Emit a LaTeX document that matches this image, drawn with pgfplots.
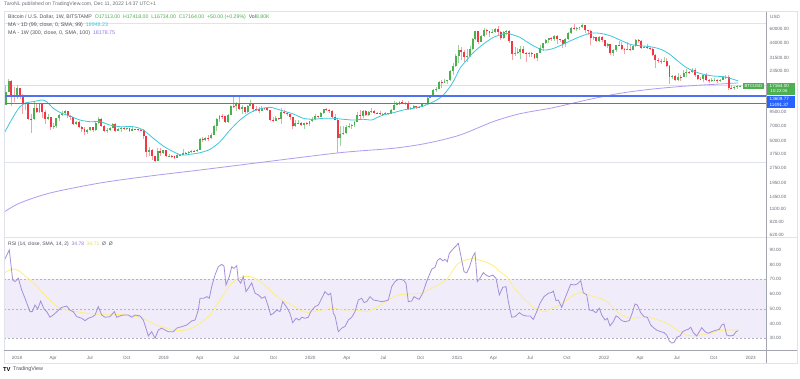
\documentclass[border=0pt]{standalone}
\usepackage{pgfplots}
\pgfplotsset{compat=1.18}
\usepackage{pgfplotstable}
\usepackage{fontspec}
\setmainfont{Liberation Sans}
\definecolor{cgreen}{HTML}{4CAF50}
\definecolor{cred}{HTML}{F23645}
\definecolor{cgreenw}{HTML}{9ED3A0}
\definecolor{credw}{HTML}{F6A0A7}
\definecolor{macyan}{HTML}{3CC8DC}
\definecolor{mapurple}{HTML}{B29AEF}
\definecolor{mapurpletxt}{HTML}{9575E6}
\definecolor{rsiline}{HTML}{A48FDA}
\definecolor{rsiyel}{HTML}{FFEE80}
\definecolor{rsiyeltxt}{HTML}{F2D94E}
\definecolor{band}{HTML}{F0ECF9}
\definecolor{dashgray}{HTML}{B4B4C0}
\definecolor{hblue}{HTML}{4F72F5}
\definecolor{badgeblue}{HTML}{2962FF}
\definecolor{lbl}{HTML}{6A6D78}
\definecolor{dark}{HTML}{50535E}
\definecolor{framec}{HTML}{E0E3EB}
\definecolor{pricegreen}{HTML}{CDEBCF}
\definecolor{axgray}{HTML}{A3A6AF}

\pgfplotstableread{
w o h l c
0 11200 17200 11000 15000
1 15000 19666 14800 19100
2 19100 19200 10800 13900
3 13900 16500 12000 13850
4 13850 17200 12800 16200
5 16200 16300 12800 13600
6 13600 14100 9000 11550
7 11550 12000 9900 11700
8 11700 11800 7900 8200
9 8200 9000 6000 8100
10 8100 11800 8000 10400
11 10400 11250 9300 9600
12 9600 11700 9400 11400
13 11400 11700 8400 9500
14 9500 9900 7300 8200
15 8200 9100 8000 8450
16 8450 8500 6400 6850
17 6850 7500 6450 7000
18 7000 8400 6600 8350
19 8350 9000 7850 8900
20 8900 9750 8700 9400
21 9400 9990 9050 9650
22 9650 9700 8350 8700
23 8700 8880 7950 8500
24 8500 8550 7100 7350
25 7350 7750 7050 7700
26 7700 7750 6650 6750
27 6750 6900 6150 6500
28 6500 6850 5750 6150
29 6150 6500 5800 6350
30 6350 6800 6300 6750
31 6750 6800 6100 6350
32 6350 7600 6300 7400
33 7400 8500 7350 8200
34 8200 8250 6900 7000
35 7000 7150 6100 6300
36 6300 6600 5900 6400
37 6400 6800 6250 6700
38 6700 7400 6700 7300
39 7300 7400 6100 6250
40 6250 6600 6200 6500
41 6500 6800 6150 6700
42 6700 6750 6400 6600
43 6600 6650 6400 6620
44 6620 6650 6100 6300
45 6300 6750 6250 6500
46 6500 6550 6400 6450
47 6450 6550 6250 6420
48 6420 6550 6350 6350
49 6350 6450 5200 5550
50 5550 5600 3500 3900
51 3900 4400 3600 4100
52 4100 4150 3300 3550
53 3550 3600 3122 3220
54 3220 4250 3200 4000
55 4000 4250 3550 3850
56 3850 4100 3700 4050
57 4050 4100 3500 3550
58 3550 3700 3500 3560
59 3560 3650 3450 3540
60 3540 3570 3350 3420
61 3420 3700 3380 3640
62 3640 3700 3550 3680
63 3680 4200 3670 3850
64 3850 3900 3700 3820
65 3820 3950 3700 3920
66 3920 4050 3850 4000
67 4000 4100 3900 3980
68 3980 4150 3900 4100
69 4100 5350 4100 5200
70 5200 5450 4900 5100
71 5100 5400 5000 5300
72 5300 5650 5000 5280
73 5280 5900 5250 5750
74 5750 7100 5700 7000
75 7000 8300 6200 8150
76 8150 8950 7550 8750
77 8750 9100 8100 8700
78 8700 8800 7450 7650
79 7650 9000 7500 8950
80 8950 11200 8950 10850
81 10850 13880 10300 10800
82 10800 12000 9700 11450
83 11450 13150 10250 10200
84 10200 11000 9100 10550
85 10550 10650 9150 9500
86 9500 11000 9400 10950
87 10950 12300 10900 11300
88 11300 11450 9500 10200
89 10200 10950 9800 10150
90 10150 10600 9350 9750
91 9750 10900 9750 10400
92 10400 10450 9900 10300
93 10300 10350 9800 10000
94 10000 10050 7750 8050
95 8050 8550 7800 7850
96 7850 8800 7800 8300
97 8300 8400 7900 8200
98 8200 10500 7300 9550
99 9550 9900 9050 9300
100 9300 9500 8700 9050
101 9050 9100 8000 8500
102 8500 8500 6550 7000
103 7000 7900 6800 7400
104 7400 7900 7300 7500
105 7500 7600 7000 7100
106 7100 7500 6450 7500
107 7500 7700 7100 7300
108 7300 7800 6900 7750
109 7750 8450 7700 8100
110 8100 9200 8050 8650
111 8650 8750 8250 8600
112 8600 9600 8550 9350
113 9350 10150 9100 10150
114 10150 10500 9700 9900
115 9900 10250 9350 9650
116 9650 9950 8400 8550
117 8550 9200 8000 8000
118 8000 8150 3850 5350
119 5350 6950 4450 5850
120 5850 6950 5700 5900
121 5900 7200 5850 6750
122 6750 7450 6600 6900
123 6900 7300 6550 7100
124 7100 7750 6800 7700
125 7700 9450 7650 8900
126 8900 10050 8100 8750
127 8750 9900 8250 9700
128 9700 9850 8800 8900
129 8900 9750 8650 9450
130 9450 10400 9250 9750
131 9750 9950 9100 9350
132 9350 9600 9200 9300
133 9300 9750 8950 9000
134 9000 9350 8900 9050
135 9050 9450 9050 9250
136 9250 9300 9050 9200
137 9200 10100 9150 9950
138 9950 12100 9900 11100
139 11100 11900 11000 11700
140 11700 12100 11150 11900
141 11900 12500 11350 11650
142 11650 11800 11150 11700
143 11700 12100 9900 10250
144 10250 10600 9900 10300
145 10300 11100 10200 10900
146 10900 10950 10150 10750
147 10750 10950 10400 10650
148 10650 11500 10550 11400
149 11400 11700 11200 11500
150 11500 13350 11400 13050
151 13050 14000 12900 13750
152 13750 15950 13300 15500
153 15500 16500 14800 15950
154 15950 18950 15800 18400
155 18400 19400 16300 18200
156 18200 19900 18100 19150
157 19150 19400 17650 19250
158 19250 24250 19000 23850
159 23850 28400 21900 26250
160 26250 34800 26050 33000
161 33000 41950 28250 38150
162 38150 40100 30400 35800
163 35800 37850 28850 32250
164 32250 38500 29200 33100
165 33100 40950 32300 38900
166 38900 49700 37900 48600
167 48600 58350 47000 57500
168 57500 57500 43000 45200
169 45200 52600 44950 51200
170 51200 61800 50300 59000
171 59000 60500 53300 57350
172 57350 58400 50400 55800
173 55800 60200 55500 57100
174 57100 61300 55400 59800
175 59800 64900 51500 56200
176 56200 57500 47000 49100
177 49100 58000 48800 56600
178 56600 59500 53400 58200
179 58200 59600 43800 46400
180 46400 46600 30000 34700
181 34700 40900 33300 35600
182 35600 39300 34800 35800
183 35800 40950 31100 39100
184 39100 41300 34800 35500
185 35500 36000 28800 34700
186 34700 36550 32700 35300
187 35300 35950 32100 34250
188 34250 34650 31000 31800
189 31800 35400 29300 35400
190 35400 42200 35200 39900
191 39900 44700 37400 43800
192 43800 48100 43100 47000
193 47000 49400 43950 49300
194 49300 50500 46350 48800
195 48800 52900 46700 51800
196 51800 52900 42800 48300
197 48300 48850 44800 47250
198 47250 47350 39600 43200
199 43200 49250 40800 48200
200 48200 56100 46900 54700
201 54700 62900 53900 61500
202 61500 67000 59500 60900
203 60900 63700 57800 61300
204 61300 63500 59400 63300
205 63300 69000 62300 65500
206 65500 66300 55600 58600
207 58600 59300 53300 57300
208 57300 59100 42000 49400
209 49400 51900 47100 50100
210 50100 50500 45500 46700
211 46700 51900 45600 50800
212 50800 52100 45700 47300
213 47300 47500 40600 41800
214 41800 44500 39700 43100
215 43100 43500 34000 35100
216 35100 38900 32900 37900
217 37900 42600 36250 42400
218 42400 45850 41700 42200
219 42200 44750 38000 38400
220 38400 39500 34300 37700
221 37700 45400 37500 38400
222 38400 42600 37150 37800
223 37800 42350 37600 41300
224 41300 48200 40500 46800
225 46800 48200 44250 46400
226 46400 47250 39200 39700
227 39700 41550 39250 40400
228 40400 42950 38550 39450
229 39450 40800 37650 38500
230 38500 40000 33700 34100
231 34100 34300 25350 30500
232 30500 31500 28650 29450
233 29450 30650 28000 29500
234 29500 32400 29300 29900
235 29900 31700 26500 26600
236 26600 26850 17600 20550
237 20550 21850 19650 21000
238 21000 21550 18900 19300
239 19300 22450 19000 20850
240 20850 21600 18950 20800
241 20800 24250 20750 22600
242 22600 24650 20750 23300
243 23300 23700 22400 22950
244 22950 25200 22700 24300
245 24300 25200 20800 21500
246 21500 21900 19550 20050
247 20050 20550 19550 19800
248 19800 21850 18550 21800
249 21800 22800 19350 19400
250 19400 19950 18150 18800
251 18800 20350 18500 19300
252 19300 20450 19000 19400
253 19400 19950 18200 19050
254 19050 19700 18650 19550
255 19550 21000 19250 20650
256 20650 21450 20050 20900
257 20900 21450 15650 16350
258 16350 17200 15800 16300
259 16300 16850 15500 16450
260 16450 17400 16000 17113
261 17113 17418 16734 17164
}\btc

\pgfplotstableread{
x y
-0.622 69000
270.31 69000
}\lineATH
\pgfplotstableread{
x y
-0.622 3122
270.31 3122
}\lineLOW
\pgfplotstableread{
x y
-0.622 17164
270.31 17164
}\linePRICE
\pgfplotstableread{
x y
-0.622 13609.77
270.31 13609.77
}\lineA
\pgfplotstableread{
x y
-0.622 11491.37
270.31 11491.37
}\lineB

\begin{document}
\begin{tikzpicture}[x=1pt,y=1pt]
\fill[white] (0pt,0pt) rectangle (800pt,378pt);
\useasboundingbox (0pt,0pt) rectangle (800pt,378pt);

% ---------------- price pane ----------------
\begin{axis}[
  at={(4pt,141pt)}, anchor=south west, scale only axis,
  width=762pt, height=226pt,
  xmin=-0.622, xmax=270.31,
  ymode=log, ymin=588.3, ymax=90200,
  axis line style={draw=none}, tick style={draw=none}, major tick length=0pt,
  xtick=\empty,
  ytick={620,820,1100,1450,1950,2750,3750,5000,7000,9500,23500,31500,44000,60000},
  yticklabels={620.00,820.00,1100.00,1450.00,1950.00,2750.00,3750.00,5000.00,7000.00,9500.00,23500.00,31500.00,44000.00,60000.00},
  yticklabel pos=right,
  yticklabel style={font=\fontsize{4.6}{5}\selectfont, text=lbl, inner sep=0pt, xshift=3.5pt, anchor=west},
]
\addplot[draw=framec, mark=none, line width=0.7pt, forget plot] table[x=x,y=y] {\lineATH};
\addplot[draw=framec, mark=none, line width=0.7pt, forget plot] table[x=x,y=y] {\lineLOW};
\addplot[draw=pricegreen, mark=none, line width=0.7pt, forget plot] table[x=x,y=y] {\linePRICE};

\addplot[draw=mapurple, mark=none, line width=0.8pt, smooth, forget plot] coordinates {
(-0.6,1026) (5.07,1254) (15.73,1567) (33.51,1958) (51.29,2288) (69.07,2615) (90.4,3090) (118.85,3845) (137.7,4240) (149.67,4740) (161.51,5700) (173.25,7670) (182.84,9160) (194.58,10470) (206.56,12430) (218.4,14430) (230.14,15880) (242.12,16970) (253.95,17750) (260.46,18180)};

% wicks
\addplot[draw=none, mark=none, forget plot,
  restrict expr to domain={\thisrow{c}-\thisrow{o}}{0:10000000},
  error bars/.cd, y dir=both, y explicit, error mark=none,
  error bar style={draw=cgreenw, line width=0.6pt}]
  table[x=w, y=c, y error plus expr=\thisrow{h}-\thisrow{c}, y error minus expr=\thisrow{c}-\thisrow{l}] {\btc};
\addplot[draw=none, mark=none, forget plot,
  restrict expr to domain={\thisrow{c}-\thisrow{o}}{-10000000:-0.001},
  error bars/.cd, y dir=both, y explicit, error mark=none,
  error bar style={draw=credw, line width=0.6pt}]
  table[x=w, y=c, y error plus expr=\thisrow{h}-\thisrow{c}, y error minus expr=\thisrow{c}-\thisrow{l}] {\btc};
% bodies
\addplot[draw=none, mark=none, forget plot,
  restrict expr to domain={\thisrow{c}-\thisrow{o}}{0:10000000},
  error bars/.cd, y dir=minus, y explicit, error mark=none,
  error bar style={draw=cgreen, line width=1.9pt}]
  table[x=w, y=c, y error minus expr=\thisrow{c}-\thisrow{o}] {\btc};
\addplot[draw=none, mark=none, forget plot,
  restrict expr to domain={\thisrow{c}-\thisrow{o}}{-10000000:-0.001},
  error bars/.cd, y dir=plus, y explicit, error mark=none,
  error bar style={draw=cred, line width=1.9pt}]
  table[x=w, y=c, y error plus expr=\thisrow{o}-\thisrow{c}] {\btc};

\addplot[draw=macyan, mark=none, line width=0.8pt, smooth, forget plot] coordinates {
(-0.6,5920) (2.69,8570) (5.07,10710) (7.45,11700) (9.8,11970) (12.78,12430) (14.56,11970) (16.91,10330) (19.89,9250) (22.85,8710) (26.4,7960) (29.96,7670) (33.51,7670) (37.07,7120) (40.62,6860) (45.35,6860) (48.91,6370) (52.46,5300) (56.02,4460) (59.58,3930) (62.56,3650) (65.51,3710) (69.07,3845) (72.62,4145) (76.18,4910) (79.73,6370) (83.29,7960) (86.85,9370) (89.8,10100) (93.96,10560) (97.51,9950) (102.24,9100) (105.8,8270) (109.36,8090) (112.91,8270) (116.47,8270) (120.02,8090) (123.58,7960) (127.14,8090) (130.12,7960) (131.9,8380) (134.24,8890) (137.8,9370) (141.35,9950) (144.91,10330) (148.46,10870) (150.85,11550) (153.23,12430) (155.58,13890) (157.96,16720) (159.74,20150) (161.51,25180) (163.9,30290) (166.24,35650) (168.62,40740) (171,45500) (173.35,50150) (175.73,52860) (178.12,54890) (180.46,52860) (182.84,50150) (185.23,45500) (188.18,40740) (191.13,37840) (194.12,38700) (197.07,41650) (200.63,46240) (204.18,50890) (207.73,54890) (211.29,54890) (214.85,52040) (218.4,47280) (221.96,42980) (225.51,41650) (229.07,40740) (232.62,38700) (235.58,35150) (238.56,30290) (241.51,26100) (244.46,23710) (248.02,22030) (251.57,21210) (255.13,20880) (257.51,20150) (260.46,18980)};

\addplot[draw=hblue, mark=none, line width=1.4pt, forget plot] table[x=x,y=y] {\lineA};
\addplot[draw=hblue, mark=none, line width=1.4pt, forget plot] table[x=x,y=y] {\lineB};
\end{axis}

% ---------------- RSI pane ----------------
\begin{axis}[
  at={(4pt,28pt)}, anchor=south west, scale only axis,
  width=762pt, height=113pt,
  xmin=-0.622, xmax=270.31, ymin=22.05, ymax=98.8,
  axis line style={draw=none}, tick style={draw=none}, major tick length=0pt,
  ytick={30,40,50,60,70,80,90},
  yticklabels={30.00,40.00,50.00,60.00,70.00,80.00,90.00},
  yticklabel pos=right,
  yticklabel style={font=\fontsize{4.6}{5}\selectfont, text=lbl, inner sep=0pt, xshift=3.5pt, anchor=west},
  xtick={4,16.857,29.857,43,56.143,69,82,95.143,108.286,121.286,134.286,147.429,160.571,173.429,186.429,199.571,212.714,225.571,238.571,251.714,264.857},
  xticklabels={2018,Apr,Jul,Oct,2019,Apr,Jul,Oct,2020,Apr,Jul,Oct,2021,Apr,Jul,Oct,2022,Apr,Jul,Oct,2023},
  xticklabel style={font=\fontsize{4.6}{5}\selectfont, text=lbl, inner sep=0pt, anchor=north, yshift=-6pt},
]
\addplot[fill=band, draw=none, mark=none, forget plot] coordinates {(-0.622,30) (270.31,30) (270.31,70) (-0.622,70)} -- cycle;
\addplot[draw=dashgray, mark=none, line width=0.5pt, dash pattern=on 2pt off 2pt, forget plot] coordinates {(-0.622,30) (270.31,30)};
\addplot[draw=dashgray, mark=none, line width=0.5pt, dash pattern=on 2pt off 2pt, forget plot] coordinates {(-0.622,50) (270.31,50)};
\addplot[draw=dashgray, mark=none, line width=0.5pt, dash pattern=on 2pt off 2pt, forget plot] coordinates {(-0.622,70) (270.31,70)};

\addplot[draw=rsiyel, mark=none, line width=0.8pt, smooth, forget plot] coordinates {
(-0.6,74.2) (1.51,76.5) (3.29,76.9) (5.07,75.4) (6.85,72.3) (8.62,69.6) (11.0,65.5) (13.35,60.6) (15.73,56.0) (18.68,51.0) (21.67,49.2) (25.23,48.1) (28.78,47.0) (33.51,46.3) (38.24,46.3) (43.0,45.8) (47.73,44.3) (50.1,42.4) (53.67,39.0) (57.23,36.8) (59.58,35.6) (62.56,35.2) (66.12,36.8) (69.07,40.2) (72.62,45.8) (75.0,52.6) (77.35,59.5) (79.73,66.2) (82.12,70.1) (84.46,71.9) (86.85,71.9) (89.23,70.1) (91.57,66.9) (95.13,60.6) (98.12,56.0) (101.07,53.3) (104.62,49.2) (107.58,47.4) (110.56,48.6) (114.12,49.7) (116.47,50.4) (120.02,49.2) (124.79,49.2) (128.34,48.1) (131.9,51.0) (136.02,56.0) (139.58,59.4) (143.74,60.1) (147.29,60.6) (150.85,63.3) (154.4,66.9) (156.78,70.1) (159.13,76.5) (160.91,80.9) (163.29,83.0) (166.24,84.3) (168.62,83.0) (171.0,81.6) (173.35,79.3) (175.73,75.2) (178.12,71.9) (180.46,65.1) (182.84,59.5) (185.23,54.9) (187.58,51.0) (189.96,49.2) (191.74,48.1) (194.12,50.4) (197.07,52.6) (199.45,56.0) (201.8,59.4) (204.18,61.0) (206.56,60.1) (208.91,58.3) (211.29,57.2) (213.67,54.9) (216.02,50.4) (218.4,46.5) (220.78,44.3) (223.13,43.6) (225.51,44.3) (227.9,44.3) (230.24,43.6) (232.62,42.0) (235.0,40.2) (237.35,37.5) (239.73,34.5) (242.12,32.2) (244.46,31.6) (246.84,32.2) (250.4,33.4) (253.95,35.2) (257.51,35.6) (260.46,35.6)};

\addplot[draw=rsiline, mark=none, line width=0.8pt, forget plot] coordinates {
(-0.6,82.7) (1.26,90.0) (2.47,69.6) (3.29,68.5) (4.46,70.8) (5.67,62.8) (6.85,57.2) (8.62,48.1) (9.44,48.1) (10.4,52.6) (11.36,49.9) (12.43,55.3) (13.6,49.9) (14.56,48.1) (15.73,44.3) (16.91,45.9) (18.12,48.0) (19.89,51.0) (21.67,51.9) (22.84,49.2) (24.02,48.0) (25.23,44.7) (27.0,43.6) (28.18,42.0) (29.35,43.6) (30.92,44.7) (31.73,45.8) (32.91,51.5) (34.12,45.8) (35.29,44.3) (37.07,44.7) (38.6,48.1) (39.45,44.3) (40.62,45.2) (41.8,45.8) (43.57,45.8) (44.79,44.3) (45.96,45.8) (47.73,45.2) (48.91,42.4) (49.87,36.8) (50.69,31.6) (51.89,34.5) (53.07,30.0) (54.24,35.6) (55.45,36.9) (56.62,35.6) (57.8,34.5) (59.58,34.5) (60.78,36.9) (62.56,37.9) (64.34,39.0) (66.12,41.8) (67.29,42.4) (68.47,49.2) (69.07,57.2) (70.49,57.2) (71.45,58.3) (72.37,57.2) (73.23,65.1) (74.4,73.0) (75.57,78.6) (76.78,80.2) (77.6,79.1) (78.31,66.2) (79.49,71.9) (80.34,78.6) (81.16,77.5) (82.12,79.3) (82.69,69.6) (83.54,67.4) (84.46,71.9) (85.42,61.7) (86.24,63.9) (87.45,67.7) (88.62,60.6) (89.8,59.5) (91.01,57.2) (92.18,58.3) (93.36,51.5) (94.21,45.8) (95.14,46.9) (96.34,49.2) (97.52,48.1) (98.47,54.9) (99.9,51.0) (101.07,46.9) (102.03,40.6) (103.2,43.6) (104.38,42.4) (105.23,44.3) (106.4,43.6) (107.58,44.3) (108.43,48.1) (109.96,51.5) (111.13,52.6) (112.34,57.2) (113.51,61.7) (114.69,59.5) (115.54,60.6) (116.47,47.0) (117.07,45.2) (118.24,34.5) (119.45,36.9) (120.62,38.0) (121.8,42.4) (123.01,44.3) (124.18,48.1) (125.36,56.0) (126.56,57.2) (127.38,54.3) (128.34,54.9) (129.51,58.3) (130.69,56.0) (131.9,55.6) (133.67,54.9) (134.85,55.3) (136.02,56.0) (137.23,65.1) (138.4,68.5) (139.58,70.1) (140.18,70.1) (141.35,69.6) (142.31,67.4) (143.13,54.9) (144.34,55.3) (145.16,58.3) (146.12,57.2) (147.04,56.5) (148.25,60.6) (149.42,67.4) (150.24,71.4) (151.45,76.9) (152.62,78.2) (153.44,82.7) (154.4,84.3) (155.36,82.7) (156.18,83.6) (156.99,82.0) (157.71,87.7) (158.92,90.4) (160.09,92.7) (160.91,94.5) (161.76,86.6) (162.94,75.2) (163.9,74.5) (164.82,78.2) (166.03,85.4) (166.85,88.2) (167.66,68.5) (168.62,70.8) (169.8,74.6) (170.76,73.0) (171.93,71.9) (173.14,73.0) (174.31,70.8) (175.49,59.4) (176.7,64.6) (177.87,65.1) (178.69,54.9) (179.89,44.3) (181.07,44.7) (182.6,47.4) (183.81,45.8) (184.98,45.2) (186.4,45.2) (187.58,42.9) (188.79,48.1) (189.96,53.8) (191.38,58.3) (192.91,60.6) (194.12,61.2) (194.68,62.1) (195.64,55.6) (196.46,56.0) (197.67,51.0) (198.84,57.2) (200.02,62.8) (200.87,66.7) (202.04,66.2) (203.22,66.9) (204.43,69.1) (205.35,61.0) (206.56,59.5) (207.49,49.2) (208.7,48.8) (209.87,47.4) (211.05,50.4) (211.9,45.8) (213.07,42.4) (213.89,43.6) (214.85,38.4) (216.02,41.3) (216.98,45.2) (217.8,44.3) (219.01,42.0) (220.18,41.3) (221.71,42.0) (222.78,47.4) (223.73,53.3) (224.55,52.6) (225.76,47.4) (226.93,44.7) (228.11,44.3) (229.32,39.0) (230.49,36.9) (231.66,35.3) (232.87,34.5) (234.05,33.9) (235.0,32.2) (235.93,28.2) (236.78,26.8) (237.6,27.1) (238.56,30.7) (239.73,31.6) (240.69,34.5) (241.86,35.6) (242.68,36.1) (243.54,37.5) (244.46,33.9) (245.67,31.6) (246.59,34.5) (247.45,37.2) (248.62,34.5) (249.8,33.4) (251.01,34.5) (252.18,35.3) (253.71,36.1) (254.56,39.0) (255.38,39.7) (256.34,32.2) (257.51,31.6) (258.69,32.0) (259.65,34.5) (260.46,35.2)};
\end{axis}

% ---------------- frame and panes ----------------
\draw[framec, line width=0.6pt] (4pt,15pt) rectangle (797pt,366.3pt);
\draw[framec, line width=0.6pt] (4pt,141pt) -- (797pt,141pt);
\draw[axgray, line width=0.7pt] (4pt,28pt) -- (797pt,28pt);
\draw[axgray, line width=0.7pt] (766pt,15pt) -- (766pt,366.3pt);

% ---------------- texts ----------------
\node[anchor=west, inner sep=0pt, font=\fontsize{5.1}{6}\selectfont, text=lbl] at (4pt,374pt)
  {TaroNL published on TradingView.com, Dec 11, 2022 14:37 UTC+1};
\node[anchor=west, inner sep=0pt, font=\fontsize{5.2}{6}\selectfont, text=dark] at (8pt,360.7pt)
  {Bitcoin / U.S. Dollar, 1W, BITSTAMP\ \ \textcolor{cgreen}{O17113.00\ \ H17418.00\ \ L16734.00\ \ C17164.00\ \ +50.00 (+0.29\%)}\ \ Vol\textcolor{cgreen}{8.80K}};
\node[anchor=west, inner sep=0pt, font=\fontsize{5.3}{6}\selectfont, text=dark] at (8pt,353pt)
  {MA - 1D (99, close, 0, SMA, 99)\ \ \textcolor{macyan}{18948.23}};
\node[anchor=west, inner sep=0pt, font=\fontsize{5.3}{6}\selectfont, text=dark] at (8pt,344.7pt)
  {MA - 1W (300, close, 0, SMA, 100)\ \ \textcolor{mapurpletxt}{18178.75}};
\node[anchor=west, inner sep=0pt, font=\fontsize{5.0}{6}\selectfont, text=dark] at (8pt,134pt)
  {RSI (14, close, SMA, 14, 2)\ \ \textcolor{mapurpletxt}{34.78}\ \ \textcolor{rsiyeltxt}{34.71}\ \ Ø\ \ Ø};
\node[anchor=west, inner sep=0pt, font=\fontsize{4.6}{5}\selectfont, text=lbl] at (770pt,361pt) {USD};

% badges
\node[anchor=east, fill=cgreen, text=white, inner xsep=1.6pt, inner ysep=1pt, font=\fontsize{4.3}{5}\selectfont] at (764pt,292pt) {BTCUSD};
\fill[cgreen] (767pt,294.7pt) rectangle (795pt,283pt);
\node[anchor=west, inner sep=0pt, text=white, font=\fontsize{4.6}{5}\selectfont] at (769.5pt,291.6pt) {17164.00};
\node[anchor=west, inner sep=0pt, text=white, font=\fontsize{4.3}{5}\selectfont] at (770.5pt,286.6pt) {10:22:06};
\fill[badgeblue] (767pt,282.3pt) rectangle (795pt,270.3pt);
\node[anchor=west, inner sep=0pt, text=white, font=\fontsize{4.6}{5}\selectfont] at (769.5pt,279.3pt) {13609.77};
\node[anchor=west, inner sep=0pt, text=white, font=\fontsize{4.6}{5}\selectfont] at (769.5pt,273.3pt) {11491.37};

% logo
\node[anchor=west, inner sep=0pt, font=\fontsize{5.8}{6}\selectfont\bfseries, text=black] at (3pt,8.5pt) {TV};
\node[anchor=west, inner sep=0pt, font=\fontsize{5.4}{6}\selectfont, text=dark] at (13pt,8.5pt) {TradingView};
\end{tikzpicture}
\end{document}
